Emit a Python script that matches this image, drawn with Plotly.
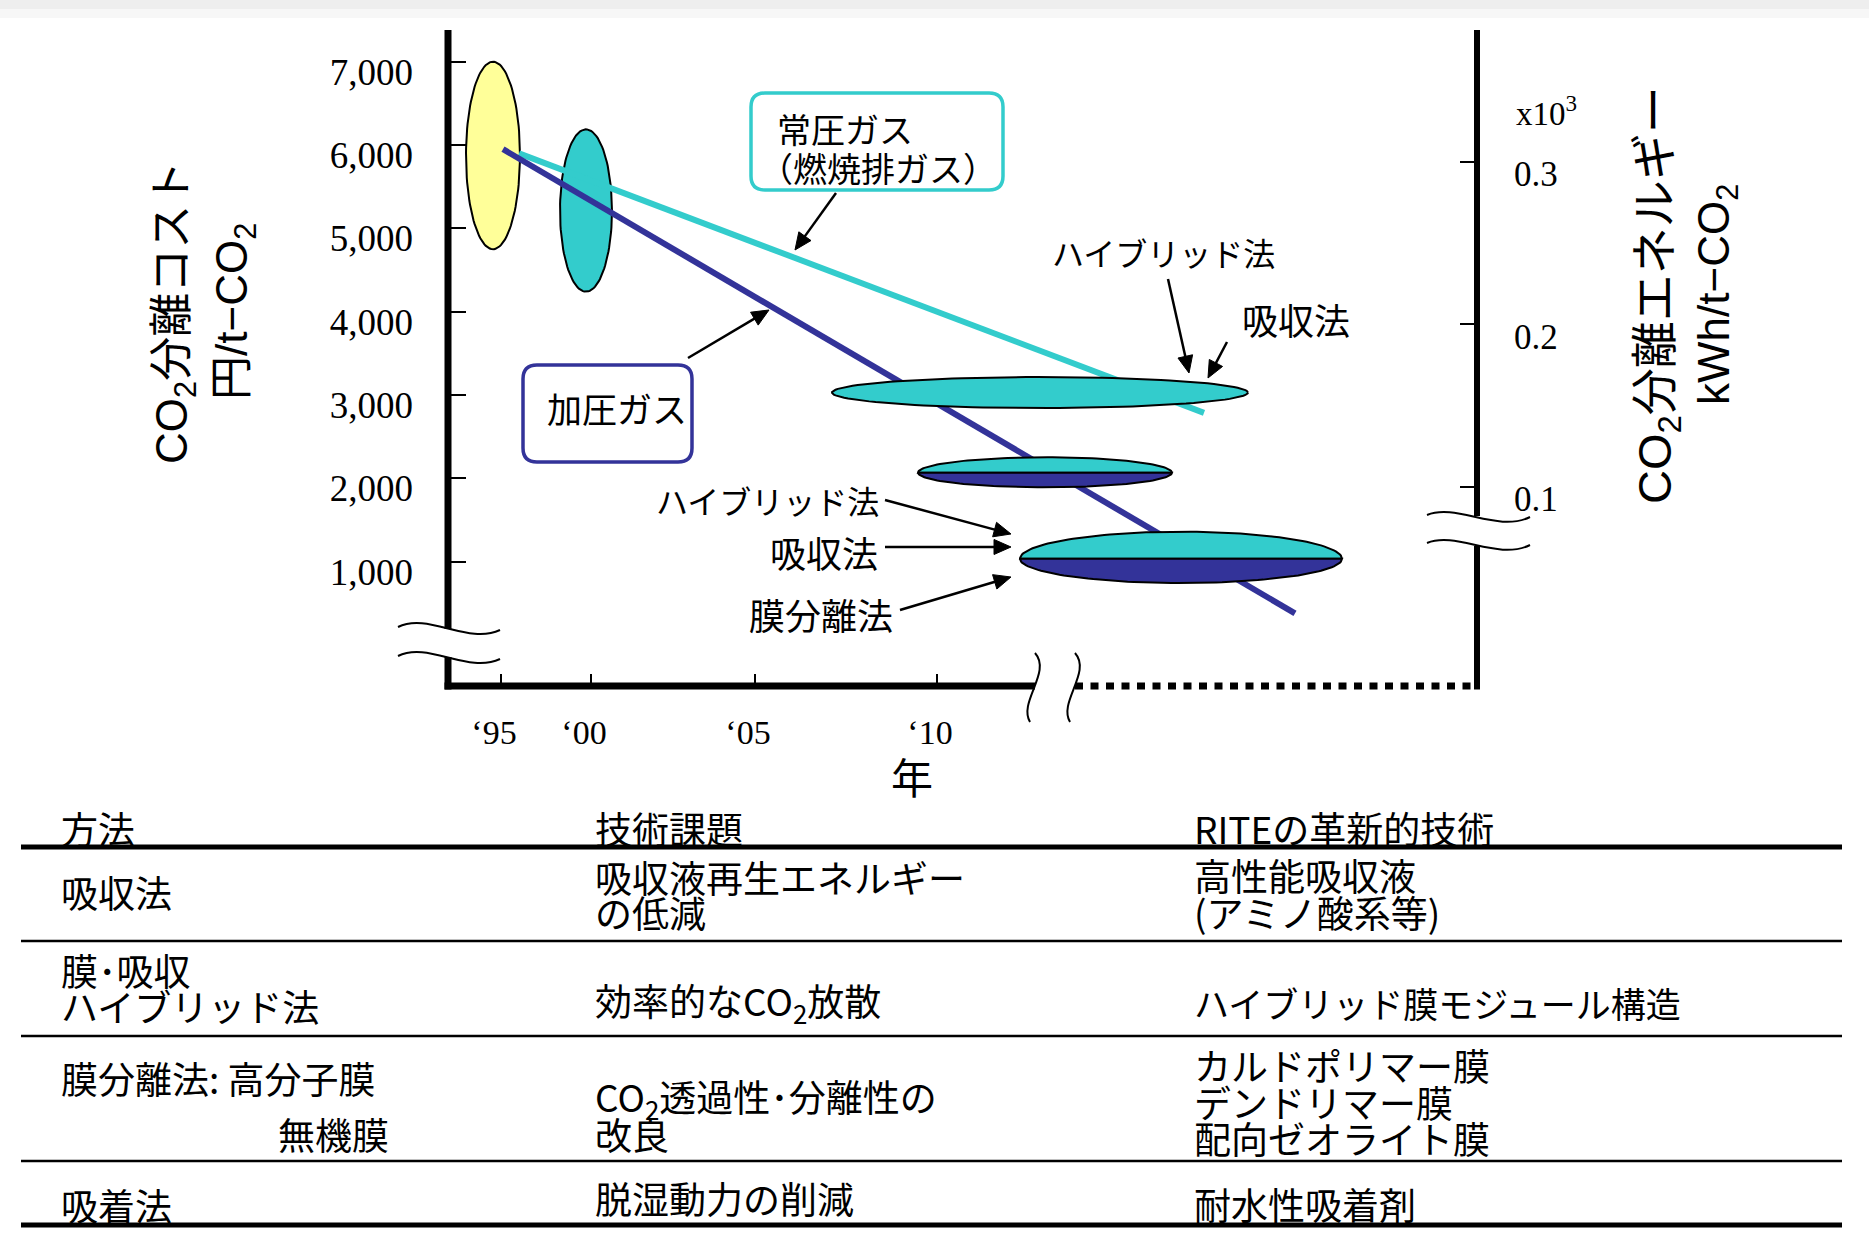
import numpy as np
import plotly.graph_objects as go

W, H = 1869, 1248

# ---------------- data ----------------
cost_ticks = [1000, 2000, 3000, 4000, 5000, 6000, 7000]
cost_tick_text = ["1,000", "2,000", "3,000", "4,000", "5,000", "6,000", "7,000"]
energy_ticks = [0.1, 0.2, 0.3]
energy_tick_text = ["0.1", "0.2", "0.3"]
year_tick_text = ["\u201895", "\u201800", "\u201805", "\u201810"]
year_tick_pos = [53, 143, 307, 489]          # schematic (non-uniform) year axis

# trend lines (x = schematic year position, y = cost 円/t-CO2)
pressurized_x = [55, 847]
pressurized_y = [5950, 380]
atmospheric_x = [71, 756]
atmospheric_y = [5900, 2786]

# early cost estimates (vertical ellipses)
early_cx = [45, 138]
early_cy = [5875, 5214]
early_rx = [27, 26]
early_ry = [1125, 974]
early_color = ["#FFFF99", "#33CCCC"]

# target ranges (horizontal ellipses: upper half / lower half)
target_cx = [592, 597, 733]
target_rx = [208, 127, 161]
target_split = [3030, 2068, 1035]
target_ry_top = [186, 185, 325]
target_ry_bot = [186, 175, 291]
target_top_color = ["#33CCCC", "#33CCCC", "#33CCCC"]
target_bot_color = ["#33CCCC", "#333399", "#333399"]

NAVY = "#333399"
TEAL = "#33CCCC"
JP = "Noto Sans CJK JP"
SERIF = "Liberation Serif"
SANSJP = "Liberation Sans, Noto Sans CJK JP"

# plot-area geometry in page pixels
XL, XR, YT, YB = 448, 1477, 30, 686
YRANGE = [-491.6, 7380.4]
Y2RANGE = [-0.0230, 0.3815]
XRANGE = [0, XR - XL]


def px(x):
    return x / W


def py(y):
    return 1 - y / H


def P(x, y):
    return f"{px(x):.5f},{py(y):.5f}"


fig = go.Figure()

t = np.linspace(0, 2 * np.pi, 120)
# vertical ellipses (below the trend lines)
for cx, cy, rx, ry, c in zip(early_cx, early_cy, early_rx, early_ry, early_color):
    fig.add_trace(go.Scatter(x=cx + rx * np.cos(t), y=cy + ry * np.sin(t), mode="lines",
                             fill="toself", fillcolor=c, line=dict(color="black", width=2),
                             hoverinfo="skip", showlegend=False))

# trend lines
fig.add_trace(go.Scatter(x=atmospheric_x, y=atmospheric_y, mode="lines",
                         line=dict(color=TEAL, width=6), hoverinfo="skip", showlegend=False))
fig.add_trace(go.Scatter(x=pressurized_x, y=pressurized_y, mode="lines",
                         line=dict(color=NAVY, width=6), hoverinfo="skip", showlegend=False))

# horizontal ellipses (above the lines)
th_top = np.linspace(0, np.pi, 80)
th_bot = np.linspace(np.pi, 2 * np.pi, 80)
for cx, rx, cy, rt, rb, ct, cb in zip(target_cx, target_rx, target_split, target_ry_top,
                                      target_ry_bot, target_top_color, target_bot_color):
    if ct == cb and rt == rb:
        fig.add_trace(go.Scatter(x=cx + rx * np.cos(t), y=cy + rt * np.sin(t), mode="lines",
                                 fill="toself", fillcolor=ct, line=dict(color="black", width=2),
                                 hoverinfo="skip", showlegend=False))
    else:
        xs = np.append(cx + rx * np.cos(th_top), cx + rx)
        ys = np.append(cy + rt * np.sin(th_top), cy)
        fig.add_trace(go.Scatter(x=xs, y=ys, mode="lines", fill="toself", fillcolor=ct,
                                 line=dict(color="black", width=2), hoverinfo="skip", showlegend=False))
        xs = np.append(cx + rx * np.cos(th_bot), cx - rx)
        ys = np.append(cy + rb * np.sin(th_bot), cy)
        fig.add_trace(go.Scatter(x=xs, y=ys, mode="lines", fill="toself", fillcolor=cb,
                                 line=dict(color="black", width=2), hoverinfo="skip", showlegend=False))

# invisible trace on right axis so it is drawn
fig.add_trace(go.Scatter(x=[0] * len(energy_ticks), y=energy_ticks, yaxis="y2", mode="markers",
                         marker=dict(opacity=0), hoverinfo="skip", showlegend=False))

shapes = []
annotations = []

# top grey band
shapes.append(dict(type="rect", xref="paper", yref="paper", x0=0, x1=1, y0=py(9), y1=1,
                   fillcolor="#eeeeee", line=dict(width=0), layer="below"))
shapes.append(dict(type="rect", xref="paper", yref="paper", x0=0, x1=1, y0=py(18), y1=py(9),
                   fillcolor="#f7f7f7", line=dict(width=0), layer="below"))


def seg(x0, y0, x1, y1, width=2, color="black", dash=None):
    d = dict(type="line", xref="paper", yref="paper", x0=px(x0), y0=py(y0), x1=px(x1), y1=py(y1),
             line=dict(color=color, width=width), layer="above")
    if dash:
        d["line"]["dash"] = dash
    shapes.append(d)


def curve(p0, c1, c2, p1, width=2):
    shapes.append(dict(type="path", xref="paper", yref="paper",
                       path=f"M {P(*p0)} C {P(*c1)} {P(*c2)} {P(*p1)}",
                       line=dict(color="black", width=width), layer="above"))


# axis lines with breaks
seg(XL, YT, XL, 629, 7)
seg(XL, 657, XL, YB + 3.5, 7)
seg(XL - 3.5, YB, 1035, YB, 7)
seg(1075, YB, XR, YB, 7, dash="8px,7.5px")
seg(XR, YT, XR, 516, 6)
seg(XR, 546, XR, YB + 3.5, 6)
# break marks
curve((398, 627), (428, 612), (468, 645), (500, 630))
curve((398, 656), (428, 641), (468, 674), (500, 659))
curve((1427, 515), (1457, 503), (1497, 533), (1530, 517))
curve((1427, 543), (1457, 531), (1497, 561), (1530, 545))
curve((1035, 653), (1052, 672), (1018, 702), (1030, 722))
curve((1075, 653), (1092, 672), (1058, 702), (1070, 722))


def rrect(x0, y0, x1, y1, r, color):
    path = (f"M {P(x0 + r, y0)} L {P(x1 - r, y0)} Q {P(x1, y0)} {P(x1, y0 + r)} "
            f"L {P(x1, y1 - r)} Q {P(x1, y1)} {P(x1 - r, y1)} L {P(x0 + r, y1)} "
            f"Q {P(x0, y1)} {P(x0, y1 - r)} L {P(x0, y0 + r)} Q {P(x0, y0)} {P(x0 + r, y0)} Z")
    shapes.append(dict(type="path", xref="paper", yref="paper", path=path, fillcolor="white",
                       line=dict(color=color, width=3.5), layer="above"))


rrect(751, 93, 1003, 190, 14, TEAL)
rrect(523, 365, 692, 462, 14, NAVY)


def txt(s, x, y, size=34, xa="left", ya="middle", font=JP, angle=0):
    annotations.append(dict(text=s, x=px(x), y=py(y), xref="paper", yref="paper", showarrow=False,
                            xanchor=xa, yanchor=ya, textangle=angle,
                            font=dict(family=font, size=size, color="black")))


def arrow(tx, ty, hx, hy, L=17.0, hw=7.5):
    dx, dy = hx - tx, hy - ty
    d = (dx * dx + dy * dy) ** 0.5
    ux, uy = dx / d, dy / d
    bx, by = hx - ux * L, hy - uy * L
    nx, ny = -uy, ux
    seg(tx, ty, bx + ux * 3, by + uy * 3, 2.5)
    path = f"M {P(hx, hy)} L {P(bx + nx * hw, by + ny * hw)} L {P(bx - nx * hw, by - ny * hw)} Z"
    shapes.append(dict(type="path", xref="paper", yref="paper", path=path, fillcolor="black",
                       line=dict(color="black", width=1), layer="above"))


# chart labels
txt("常圧ガス", 775, 129, 34)
txt("（燃焼排ガス）", 757, 168, 34)
arrow(836, 193, 795, 250)
txt("加圧ガス", 545, 408, 35)
arrow(688, 358, 769, 310)
txt("ハイブリッド法", 1163, 252, 32, xa="center")
arrow(1168, 279, 1189, 373)
txt("吸収法", 1296, 319, 36, xa="center")
arrow(1227, 342, 1208, 378)
txt("ハイブリッド法", 881, 500, 32, xa="right")
arrow(885, 500, 1011, 534)
txt("吸収法", 880, 552, 36, xa="right")
arrow(885, 547, 1011, 547)
txt("膜分離法", 895, 614, 36, xa="right")
arrow(900, 610, 1011, 577)

txt("x10<sup>3</sup>", 1514, 111, 33, font=SERIF)
txt("年", 912, 775, 42, xa="center")

# axis titles
txt("CO<sub>2</sub>分離コスト", 175, 313, 44, xa="center", font=SANSJP, angle=-90)
txt("円/t−CO<sub>2</sub>", 235, 311, 44, xa="center", font=SANSJP, angle=-90)
txt("CO<sub>2</sub>分離エネルギー", 1658, 295, 47, xa="center", font=SANSJP, angle=-90)
txt("kWh/t−CO<sub>2</sub>", 1717, 295, 44, xa="center", font=SANSJP, angle=-90)

# ---------------- table ----------------
TX = [59, 593, 1192]
TS = 37
seg(21, 847, 1842, 847, 5)
seg(21, 941, 1842, 941, 2.5)
seg(21, 1036, 1842, 1036, 2.5)
seg(21, 1161, 1842, 1161, 2.5)
seg(21, 1225, 1842, 1225, 5)

txt("方法", TX[0], 828, TS)
txt("技術課題", TX[1], 828, TS)
txt("RITEの革新的技術", TX[2], 828, TS)

txt("吸収法", TX[0], 892, TS)
txt("吸収液再生エネルギー", TX[1], 877, TS)
txt("の低減", TX[1], 912, TS)
txt("高性能吸収液", TX[2], 875, TS)
txt("(アミノ酸系等)", TX[2], 912, TS)

txt("膜･吸収", TX[0], 970, TS)
txt("ハイブリッド法", TX[0], 1006, TS)
txt("効率的なCO<sub>2</sub>放散", TX[1], 1002, TS)
txt("ハイブリッド膜モジュール構造", TX[2], 1002, 35)

txt("膜分離法: 高分子膜", TX[0], 1078, TS)
txt("無機膜", 391, 1134, TS, xa="right")
txt("CO<sub>2</sub>透過性･分離性の", TX[1], 1098, TS)
txt("改良", TX[1], 1134, TS)
txt("カルドポリマー膜", TX[2], 1065, TS)
txt("デンドリマー膜", TX[2], 1102, TS)
txt("配向ゼオライト膜", TX[2], 1138, TS)

txt("吸着法", TX[0], 1205, TS)
txt("脱湿動力の削減", TX[1], 1198, TS)
txt("耐水性吸着剤", TX[2], 1204, TS)

fig.update_layout(
    width=W, height=H, margin=dict(l=0, r=0, t=0, b=0, pad=0),
    paper_bgcolor="white", plot_bgcolor="rgba(0,0,0,0)",
    showlegend=False, shapes=shapes, annotations=annotations,
    xaxis=dict(domain=[px(XL), px(XR)], range=XRANGE, tickmode="array", tickvals=year_tick_pos,
               ticktext=year_tick_text, ticks="inside", ticklen=12, tickwidth=2, tickcolor="black",
               showgrid=False, zeroline=False, showline=False, fixedrange=True,
               tickfont=dict(family=SERIF, size=34, color="black"),
               ticklabelstandoff=23, ticklabelshift=-7),
    yaxis=dict(domain=[py(YB), py(YT)], range=YRANGE, tickmode="array", tickvals=cost_ticks,
               ticktext=cost_tick_text, ticks="inside", ticklen=18, tickwidth=2, tickcolor="black",
               showgrid=False, zeroline=False, showline=False, fixedrange=True,
               tickfont=dict(family=SERIF, size=37, color="black"),
               ticklabelstandoff=34, ticklabelshift=10),
    yaxis2=dict(domain=[py(YB), py(YT)], range=Y2RANGE, overlaying="y", side="right", anchor="x",
                tickmode="array", tickvals=energy_ticks, ticktext=energy_tick_text,
                ticks="inside", ticklen=17, tickwidth=2, tickcolor="black",
                showgrid=False, zeroline=False, showline=False, fixedrange=True,
                tickfont=dict(family=SERIF, size=35, color="black"),
                ticklabelstandoff=36, ticklabelshift=12),
)

fig.write_html("out.html", config={"displayModeBar": False},
               post_script="document.body.style.margin='0';")
